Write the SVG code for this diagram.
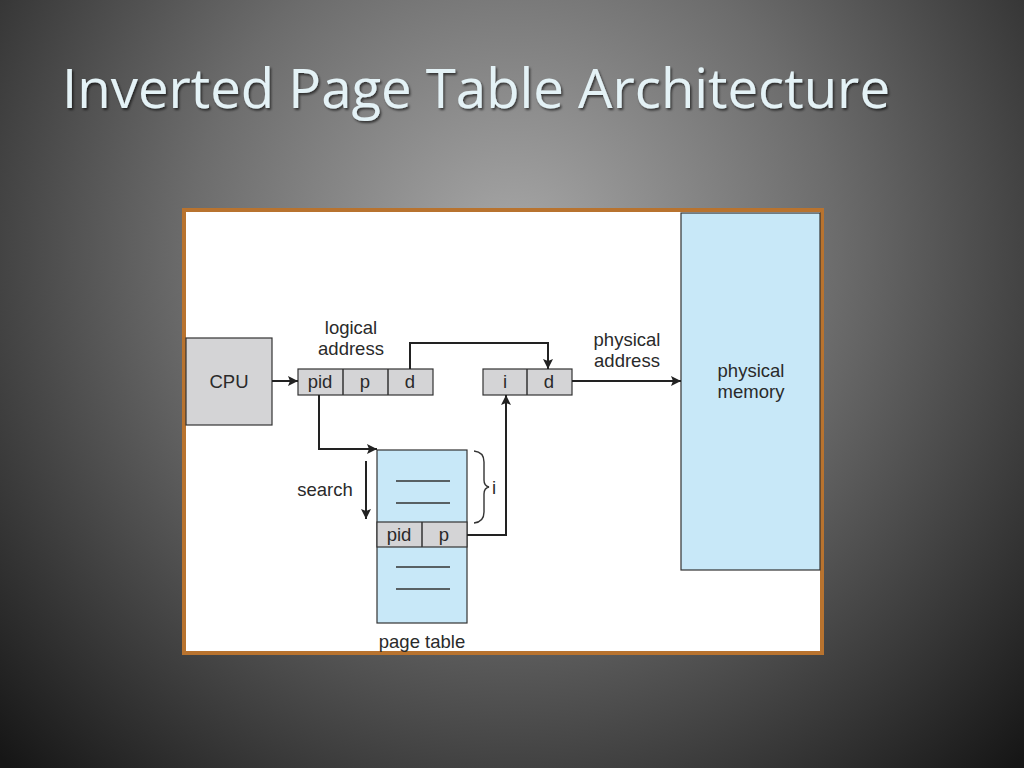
<svg xmlns="http://www.w3.org/2000/svg" width="1024" height="768" viewBox="0 0 1024 768">
<defs>
<radialGradient id="bg" cx="512" cy="250" r="720" gradientUnits="userSpaceOnUse">
<stop offset="0" stop-color="#a8a8a8"/>
<stop offset="0.45" stop-color="#6c6c6c"/>
<stop offset="1" stop-color="#161616"/>
</radialGradient>
<filter id="ts" x="-5%" y="-20%" width="110%" height="150%">
<feDropShadow dx="1.5" dy="2" stdDeviation="1" flood-color="#000" flood-opacity="0.6"/>
</filter>
<marker id="ah" viewBox="0 0 10 10" refX="10" refY="5" markerWidth="11" markerHeight="10" markerUnits="userSpaceOnUse" orient="auto">
<path d="M0,0 L10,5 L0,10 L2,5 z" fill="#222"/>
</marker>
<style>
.t{font-family:"Liberation Sans",Arial,sans-serif;font-size:18.5px;fill:#2a2a2a;text-anchor:middle}
.g{fill:#d4d4d6;stroke:#333;stroke-width:1.2}
.b{fill:#c8e8f8;stroke:#333;stroke-width:1.2}
.c{fill:none;stroke:#222;stroke-width:2}
.ln{stroke:#333;stroke-width:1.5}
</style>
</defs>
<rect width="1024" height="768" fill="url(#bg)"/>
<text x="62" y="108" font-family="'Open Sans','Noto Sans',sans-serif" font-size="54" fill="#e4f2f6" textLength="828" lengthAdjust="spacingAndGlyphs" filter="url(#ts)">Inverted Page Table Architecture</text>
<rect x="184" y="210" width="638" height="443" fill="#fff" stroke="#b8732f" stroke-width="4"/>
<g id="memory">
<rect class="b" x="681" y="213" width="139" height="357"/>
<text class="t" x="751" y="377">physical</text>
<text class="t" x="751" y="398">memory</text>
</g>
<g id="cpu">
<rect class="g" x="186" y="338" width="86" height="87"/>
<text class="t" x="229" y="388">CPU</text>
</g>
<g id="logical">
<rect class="g" x="298" y="369" width="135" height="26"/>
<line class="ln" x1="343" y1="369" x2="343" y2="395"/>
<line class="ln" x1="388" y1="369" x2="388" y2="395"/>
<text class="t" x="320" y="388">pid</text>
<text class="t" x="365" y="388">p</text>
<text class="t" x="410" y="388">d</text>
<text class="t" x="351" y="334">logical</text>
<text class="t" x="351" y="355">address</text>
</g>
<g id="physaddr">
<rect class="g" x="483" y="369" width="89" height="26"/>
<line class="ln" x1="527" y1="369" x2="527" y2="395"/>
<text class="t" x="505" y="388">i</text>
<text class="t" x="549" y="388">d</text>
<text class="t" x="627" y="346">physical</text>
<text class="t" x="627" y="367">address</text>
</g>
<g id="pagetable">
<rect class="b" x="377" y="450" width="90" height="173"/>
<rect class="g" x="377" y="522" width="90" height="25"/>
<line class="ln" x1="422" y1="522" x2="422" y2="547"/>
<text class="t" x="399" y="541">pid</text>
<text class="t" x="444" y="541">p</text>
<line class="ln" x1="396" y1="481" x2="450" y2="481"/>
<line class="ln" x1="396" y1="503" x2="450" y2="503"/>
<line class="ln" x1="396" y1="567" x2="450" y2="567"/>
<line class="ln" x1="396" y1="589" x2="450" y2="589"/>
<text class="t" x="422" y="648">page table</text>
<path d="M474,451 Q484,452 484,462 L484,480 Q484,486 489,487 Q484,488 484,494 L484,512 Q484,522 474,523" fill="none" stroke="#333" stroke-width="1.4"/>
<text class="t" x="494" y="494">i</text>
</g>
<g id="search">
<text class="t" x="325" y="496">search</text>
<line class="c" x1="366" y1="461" x2="366" y2="519" marker-end="url(#ah)"/>
</g>
<g id="connectors">
<line class="c" x1="272" y1="381" x2="298" y2="381" marker-end="url(#ah)"/>
<polyline class="c" points="319,395 319,449 377,449" marker-end="url(#ah)"/>
<polyline class="c" points="410,369 410,343 548,343 548,369" marker-end="url(#ah)"/>
<polyline class="c" points="467,535 506,535 506,395" marker-end="url(#ah)"/>
<line class="c" x1="572" y1="381" x2="681" y2="381" marker-end="url(#ah)"/>
</g>
</svg>
